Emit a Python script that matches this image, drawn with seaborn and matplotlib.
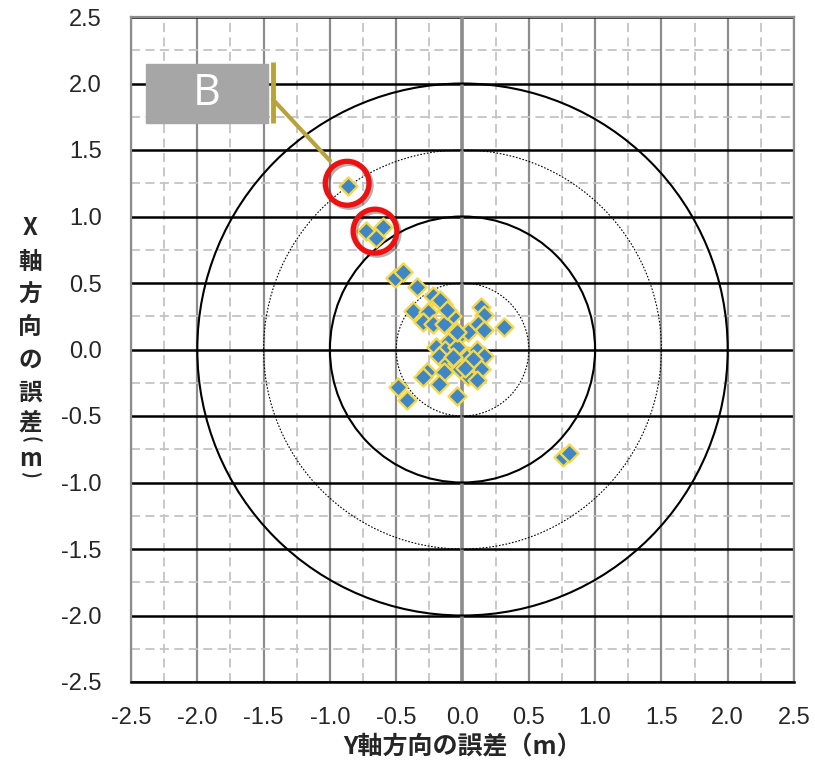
import numpy as np
import pandas as pd
import seaborn as sns
import matplotlib.pyplot as plt
from matplotlib.patches import Circle, Rectangle
from matplotlib import patheffects as pe

# error data (m): horizontal = Y-direction error, vertical = X-direction error
y_err = [-0.86, -0.73, -0.60, -0.65, 0.76, 0.80,
         -0.51, -0.45, -0.34, -0.22, -0.37, -0.26, -0.15, -0.08, -0.30, -0.22,
         -0.14, 0.14, 0.16, 0.12, 0.16, 0.31, -0.03, 0.04, -0.11, -0.20,
         -0.13, -0.04, 0.04, 0.11, 0.16, -0.18, -0.11, -0.04, 0.06, 0.14,
         -0.27, -0.14, -0.30, 0.04, 0.11, -0.18, -0.49, -0.42, -0.04, -0.02,
         -0.04, -0.17, -0.12, 0.08, 0.02, -0.07]
x_err = [1.23, 0.89, 0.92, 0.84, -0.81, -0.78,
         0.54, 0.58, 0.47, 0.40, 0.29, 0.28, 0.34, 0.25, 0.21, 0.19,
         0.19, 0.32, 0.26, 0.19, 0.15, 0.17, 0.10, 0.13, 0.06, 0.02,
         0.00, 0.02, -0.05, 0.00, -0.05, -0.05, -0.10, -0.10, -0.10, -0.15,
         -0.17, -0.17, -0.21, -0.20, -0.23, -0.26, -0.28, -0.38, -0.35, -0.15,
         0.13, 0.37, 0.30, -0.07, -0.14, -0.06]
df = pd.DataFrame({"y_err": y_err, "x_err": x_err})

ticks = np.arange(-2.5, 2.51, 0.5)
solid_radii = [1.0, 2.0]
dotted_radii = [0.5, 1.5]
label_text = "B"
marked = [(-0.87, 1.25), (-0.66, 0.89)]

sns.set_style("white")
plt.rcParams['font.family'] = ['Liberation Sans', 'Noto Sans CJK JP']

fig = plt.figure(figsize=(8.15, 7.69), dpi=100)
ax = fig.add_axes([131 / 815, 1 - 682 / 769, 663 / 815, 665 / 769])

ax.set_xlim(-2.5, 2.5)
ax.set_ylim(-2.5, 2.5)
ax.set_xticks(ticks)
ax.set_yticks(ticks)
ax.set_xticks(np.arange(-2.5, 2.51, 0.25), minor=True)
ax.set_yticks(np.arange(-2.5, 2.51, 0.25), minor=True)
ax.set_xticklabels([f"{t:.1f}" for t in ticks])
ax.set_yticklabels([f"{t:.1f}" for t in ticks])
ax.tick_params(which='both', length=0, labelsize=17)
ax.tick_params(axis='x', pad=18)
ax.tick_params(axis='y', pad=21)

ax.grid(which='minor', color='#c4c4c4', lw=1.3, ls=(0, (5, 3)))
ax.xaxis.grid(which='major', color='#8c8c8c', lw=1.6, ls='-')
ax.yaxis.grid(which='major', color='black', lw=1.8, ls='-')
ax.set_axisbelow(True)
ax.axvline(0, color='#8c8c8c', lw=2.6, zorder=1)

for s in ['left', 'right', 'top']:
    ax.spines[s].set_color('#8c8c8c')
    ax.spines[s].set_linewidth(1.6)
ax.spines['bottom'].set_color('black')
ax.spines['bottom'].set_linewidth(1.8)

for r in solid_radii:
    ax.add_patch(Circle((0, 0), r, fill=False, ec='black', lw=1.5, zorder=2))
for r in dotted_radii:
    ax.add_patch(Circle((0, 0), r, fill=False, ec='black', lw=0.8,
                        ls=(0, (1.5, 1.5)), zorder=2))

sns.scatterplot(data=df, x="y_err", y="x_err", marker='D', s=85,
                color='#3f86c6', edgecolor='#f5d84a', linewidth=1.7,
                zorder=3, ax=ax, legend=False)

# callout
ax.add_patch(Rectangle((-2.39, 1.70), 0.92, 0.45, color='#a6a6a6', zorder=4))
ax.text(-1.93, 1.925, label_text, color='white', fontsize=31,
        ha='center', va='center', family='Open Sans', zorder=5)
ax.plot([-1.43, -1.43], [1.70, 2.16], color='#b8a23c', lw=3.5, zorder=4,
        solid_capstyle='butt')
ax.plot([-1.43, -1.00], [1.88, 1.42], color='#b8a23c', lw=3, zorder=4)
shadow = [pe.SimpleLineShadow(offset=(1.5, -1.5), alpha=0.3), pe.Normal()]
for cx, cy in marked:
    ax.add_patch(Circle((cx, cy), 0.165, fill=False, ec='#ee1111', lw=3.8,
                        zorder=5, path_effects=shadow))

ax.set_xlabel("Y軸方向の誤差（m）", fontsize=18, fontweight='bold',
              family=['Noto Sans CJK JP'], labelpad=5)
ax.set_ylabel("")
ychars = ["X", "軸", "方", "向", "の", "誤", "差", "(", "m", ")"]
ypos = [228, 262, 295, 327, 360, 393, 423, 439, 459, 474]
for ch, py in zip(ychars, ypos):
    paren = ch in "()"
    fig.text(30 / 815, 1 - py / 769, ch, fontsize=13 if paren else 17,
             fontweight='bold', rotation=-90 if paren else 0,
             family=['Noto Sans CJK JP'], ha='center', va='center')

fig.savefig("out.png", dpi=100)
